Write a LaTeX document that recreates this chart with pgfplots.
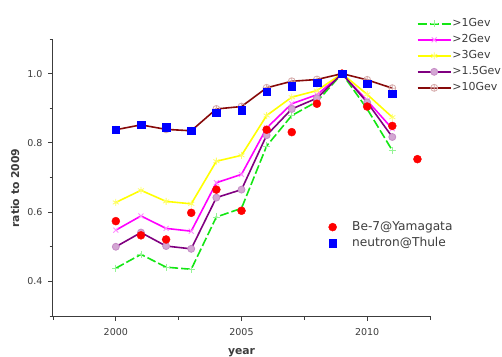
\documentclass[border=0pt]{standalone}
\usepackage{pgfplots}
\pgfplotsset{compat=1.18}
\usepackage{fontspec}
\setmainfont{DejaVu Sans}
\definecolor{cgreen}{RGB}{20,230,20}
\definecolor{cmag}{RGB}{255,0,255}
\definecolor{cyel}{RGB}{255,255,0}
\definecolor{cpur}{RGB}{128,0,128}
\definecolor{cdred}{RGB}{135,10,10}
\definecolor{axgray}{RGB}{60,60,60}
\begin{document}
\begin{tikzpicture}[x=1pt,y=1pt]
\path[use as bounding box] (-53,-40) rectangle (449,316);
\pgfplotsset{
  common/.style={
    width=377pt, height=277pt, scale only axis,
    at={(0pt,0pt)}, anchor=south west,
    xmin=1997.5, xmax=2012.5, ymin=0.3, ymax=1.1,
  },
}
\begin{axis}[common,
  axis lines*=left,
  axis line style={color=axgray, line width=1pt},
  tick style={color=axgray, line width=0.9pt},
  tick align=outside,
  major tick length=5pt, minor tick length=3.5pt,
  xtick={2000,2005,2010},
  minor xtick={1997.5,2002.5,2007.5,2012.5},
  ytick={0.4,0.6,0.8,1.0},
  minor ytick={0.3,0.5,0.7,0.9,1.1},
  /pgf/number format/assume math mode=true,
  xticklabel style={/pgf/number format/1000 sep={}, font=\fontsize{9.5}{11}\selectfont, text=axgray, yshift=-4pt},
  yticklabel style={/pgf/number format/fixed, /pgf/number format/fixed zerofill, /pgf/number format/precision=1, font=\fontsize{9.5}{11}\selectfont, text=axgray, xshift=-2pt},
  xlabel={year},
  xlabel style={at={(axis description cs:0.5,0)}, anchor=north, inner sep=0pt, yshift=-32pt, font=\bfseries\fontsize{10.8}{12}\selectfont, text=axgray},
  ylabel={ratio to 2009},
  ylabel style={at={(axis description cs:-0.1008,0.462)}, anchor=center, font=\bfseries\fontsize{10.8}{12}\selectfont, text=axgray},
  legend style={at={(axis description cs:0.9647,1.079)}, anchor=north west, draw=none, fill=none, inner sep=0pt,
    row sep=3pt, column sep=0.5pt,
    nodes={inner sep=0.5pt, text height=9pt, text depth=3pt},
    font=\fontsize{11}{13}\selectfont, text=axgray},
  legend cell align=left,
  legend image code/.code={\draw[mark repeat=2,mark phase=2,#1] plot coordinates {(0pt,0pt) (16.5pt,0pt) (33pt,0pt)};},
  every axis plot/.append style={line width=1.6pt},
]
\addplot[color=cgreen, dash pattern=on 9pt off 3pt, mark=+, mark size=3.5pt, mark options={solid, draw=cgreen!45!white, line width=0.9pt}] coordinates {
(2000,0.438) (2001,0.478) (2002,0.441) (2003,0.435) (2004,0.586) (2005,0.611) (2006,0.791) (2007,0.879) (2008,0.919) (2009,1.0) (2010,0.898) (2011,0.778)};
\addlegendentry{>1Gev}
\addplot[color=cmag, mark=x, mark size=3.5pt, mark options={draw=cmag!45!white, line width=0.9pt}] coordinates {
(2000,0.548) (2001,0.589) (2002,0.553) (2003,0.545) (2004,0.685) (2005,0.709) (2006,0.843) (2007,0.913) (2008,0.939) (2009,1.0) (2010,0.922) (2011,0.841)};
\addlegendentry{>2Gev}
\addplot[color=cyel, mark=asterisk, mark size=3.5pt, mark options={draw=cyel!60!white, line width=0.8pt}] coordinates {
(2000,0.628) (2001,0.663) (2002,0.631) (2003,0.624) (2004,0.747) (2005,0.764) (2006,0.879) (2007,0.932) (2008,0.951) (2009,1.0) (2010,0.940) (2011,0.874)};
\addlegendentry{>3Gev}
\addplot[color=cpur, mark=*, mark size=3.5pt, mark options={fill=cpur!35!white, draw=cpur!45!white, line width=0.8pt}] coordinates {
(2000,0.500) (2001,0.541) (2002,0.502) (2003,0.494) (2004,0.642) (2005,0.665) (2006,0.822) (2007,0.898) (2008,0.929) (2009,1.0) (2010,0.917) (2011,0.817)};
\addlegendentry{>1.5Gev}
\addplot[color=cdred, mark=oplus, mark size=3.5pt, mark options={draw=cdred!35!white, line width=0.8pt}] coordinates {
(2000,0.838) (2001,0.852) (2002,0.839) (2003,0.835) (2004,0.898) (2005,0.905) (2006,0.959) (2007,0.978) (2008,0.983) (2009,1.0) (2010,0.982) (2011,0.958)};
\addlegendentry{>10Gev}
\end{axis}
\begin{axis}[common, hide axis,
  legend style={at={(axis description cs:0.728,0.292)}, anchor=west, draw=none, fill=none, inner sep=0pt,
    row sep=3pt, column sep=0pt,
    nodes={inner sep=0.5pt, text height=9pt, text depth=3pt},
    font=\fontsize{12.2}{13}\selectfont, text=axgray},
  legend cell align=left,
  legend image code/.code={\path[draw=none,fill=none] (-5pt,-3pt) rectangle (19pt,3pt); \draw[#1] plot coordinates {(0pt,0pt)};},
]
\addplot[only marks, mark=*, mark size=4pt, color=red] coordinates {
(2000,0.574) (2001,0.533) (2002,0.521) (2003,0.598) (2004,0.665) (2005,0.604) (2006,0.838) (2007,0.831) (2008,0.913) (2009,1.0) (2010,0.905) (2011,0.849) (2012,0.753)};
\addlegendentry{Be-7@Yamagata}
\addplot[only marks, mark=square*, mark size=3.8pt, color=blue] coordinates {
(2000,0.838) (2001,0.852) (2002,0.845) (2003,0.835) (2004,0.887) (2005,0.894) (2006,0.948) (2007,0.963) (2008,0.974) (2009,1.0) (2010,0.971) (2011,0.942)};
\addlegendentry{neutron@Thule}
\end{axis}
\end{tikzpicture}
\end{document}
